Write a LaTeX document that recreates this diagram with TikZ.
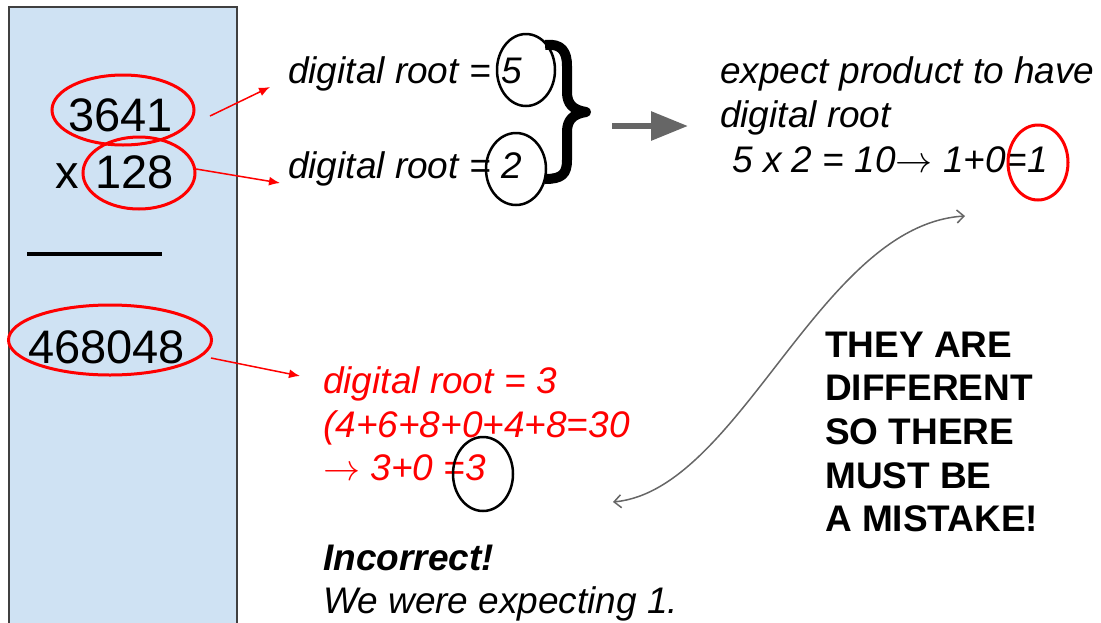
\RequirePackage{fix-cm}
\documentclass[tikz,border=0pt]{standalone}
\usepackage{fontspec}
\setmainfont{Liberation Sans}
\usetikzlibrary{arrows.meta,shapes.geometric}
\definecolor{boxblue}{HTML}{CFE2F3}
\definecolor{arrgray}{HTML}{666666}
\begin{document}
\begin{tikzpicture}[x=1pt,y=-1pt,
  txt/.style={anchor=base west, inner sep=0pt, font=\fontsize{37}{43}\selectfont\itshape},
  num/.style={anchor=base west, inner sep=0pt, font=\fontsize{47}{56}\selectfont},
  shout/.style={anchor=base west, inner sep=0pt, font=\fontsize{37}{43}\selectfont\bfseries},
  redring/.style={draw=red, line width=3pt, ellipse, inner sep=0pt},
  blackring/.style={draw=black, line width=2.5pt, ellipse, inner sep=0pt},
  redarrow/.style={draw=red, line width=1.5pt, -{Latex[length=11pt,width=9pt]}},
]
\useasboundingbox (0,0) rectangle (1101,622);
% left panel
\filldraw[fill=boxblue, draw=black!75, line width=1.5pt] (9,7) rectangle (237,640);
\node[num] (n3641) at (68,131) {3641};
\node[num] (nx) at (55,188) {x};
\node[num] (n128) at (95,188) {128};
\draw[line width=3.5pt] (27,254) -- (162,254);
\node[num] (n468) at (28,363) {468048};
\node[redring, minimum width=142pt, minimum height=70pt] (e3641) at (123,110) {};
\node[redring, minimum width=112pt, minimum height=72pt] (e128) at (139,173) {};
\node[redring, minimum width=203pt, minimum height=70pt] (e468) at (110,340) {};
% top middle
\node[txt] (dr5) at (288,83) {digital root = 5};
\node[txt] (dr2) at (288,178) {digital root = 2};
\node[blackring, minimum width=58pt, minimum height=72pt] (c5) at (526,70) {};
\node[blackring, minimum width=60pt, minimum height=72pt] (c2) at (516,169) {};
\draw[line width=10pt, line join=round] (545,45) .. controls (562,43) and (567,52) .. (567,66) -- (567,92)
  .. controls (567,104) and (573,110) .. (586,112)
  .. controls (573,114) and (567,120) .. (567,132) -- (567,160)
  .. controls (567,174) and (562,179) .. (545,179);
% red arrows
\coordinate (a1s) at (210,116); \coordinate (a1e) at (270,87);
\coordinate (a2s) at (196,169); \coordinate (a2e) at (280,183);
\coordinate (a3s) at (211,358); \coordinate (a3e) at (300,376);
\draw[redarrow] (a1s) -- (a1e);
\draw[redarrow] (a2s) -- (a2e);
\draw[redarrow] (a3s) -- (a3e);
% gray arrow
\coordinate (ga1) at (612,126); \coordinate (ga2) at (688,126);
\draw[arrgray, line width=6pt, -{Triangle[length=37pt,width=28pt]}] (ga1) -- (ga2);
% top right
\node[txt] (ex1) at (720,83) {expect product to have};
\node[txt] (ex2) at (720,127) {digital root};
\node[txt] (ex3) at (732,172) {5 x 2 = 10$\rightarrow$ 1+0=1};
\node[redring, minimum width=60pt, minimum height=75pt] (e1) at (1038,162.5) {};
% red result
\node[txt, text=red] (r1) at (323,393) {digital root = 3};
\node[txt, text=red] (r2) at (323,437) {(4+6+8+0+4+8=30};
\node[txt, text=red] (r3) at (323,480) {$\rightarrow$ 3+0 =3};
\node[blackring, minimum width=60pt, minimum height=74pt] (c3) at (483,474) {};
\node[txt, font=\fontsize{37}{43}\selectfont\bfseries\itshape] (inc) at (323,570) {Incorrect!};
\node[txt] (we) at (323,613) {We were expecting 1.};
% shout
\node[shout] (s1) at (825,357) {THEY ARE};
\node[shout] (s2) at (825,400.7) {DIFFERENT};
\node[shout] (s3) at (825,444.4) {SO THERE};
\node[shout] (s4) at (825,488.1) {MUST BE};
\node[shout] (s5) at (825,531.8) {A MISTAKE!};
% curved double arrow
\coordinate (ca1) at (613,502); \coordinate (ca2) at (965,216);
\draw[arrgray, line width=1.5pt, {Straight Barb[length=7pt,width=13pt]}-{Straight Barb[length=7pt,width=13pt]}]
  (ca1) .. controls (740,490) and (820,225) .. (ca2);
\end{tikzpicture}
\end{document}
